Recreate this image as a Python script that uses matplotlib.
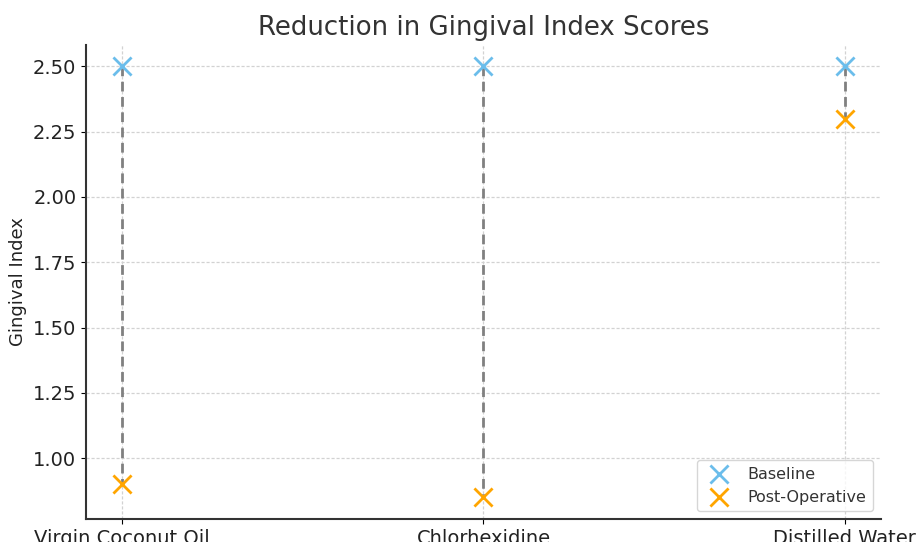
import matplotlib.pyplot as plt

groups = ['Virgin Coconut Oil', 'Chlorhexidine', 'Distilled Water']
baseline = [2.5, 2.5, 2.5]
post_op = [0.9, 0.85, 2.3]

fig = plt.figure(figsize=(9.19, 5.42), dpi=100)
ax = fig.add_axes([0.0936, 0.0424, 0.865, 0.875])

x = range(len(groups))
for i in x:
    ax.plot([i, i], [baseline[i], post_op[i]], color='#808080', linestyle='--', linewidth=2, dashes=(3.5, 2), zorder=1)

ax.scatter(x, baseline, marker='x', s=170, color='#6BBDEB', linewidths=2, label='Baseline', zorder=3)
ax.scatter(x, post_op, marker='x', s=170, color='#FFA500', linewidths=2, label='Post-Operative', zorder=3)

ax.set_xticks(list(x))
ax.set_xticklabels(groups, fontsize=14, color='#222222')
ax.tick_params(axis='y', labelsize=14, labelcolor='#222222')
ax.set_ylabel('Gingival Index', fontsize=13, color='#222222')
ax.set_title('Reduction in Gingival Index Scores', fontsize=18.7, color='#333333', pad=7)
ax.grid(True, linestyle='--', dashes=(2.5, 1.5), color='#d2d2d2', linewidth=0.9)
ax.set_axisbelow(True)
ax.spines['top'].set_visible(False)
ax.spines['right'].set_visible(False)
for s in ['left', 'bottom']:
    ax.spines[s].set_linewidth(1.5)
    ax.spines[s].set_color('#333333')

ax.legend(loc='lower right', fontsize=11.5, labelcolor='#333333')

fig.savefig('out.png', dpi=100)
